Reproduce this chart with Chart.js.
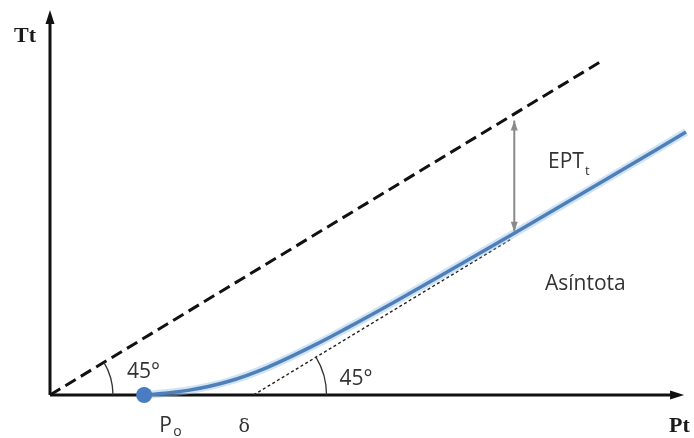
<!DOCTYPE html>
<html>
<head>
  <title>Tt vs Pt</title>
  <script src="https://cdn.jsdelivr.net/npm/chart.js"></script>
  <style>
    body { margin: 0; background: #fff; }
  </style>
</head>
<body>
<canvas id="chart" width="694" height="438"></canvas>
<script>
  // blue curve Tt(Pt)
  const curvePt = [1.48, 2.17, 2.80, 3.42, 4.19, 4.66, 5.43, 6.21, 7.30, 8.54, 10.0];
  const curveTt = [0, 0.12, 0.35, 0.72, 1.32, 1.73, 2.43, 3.16, 4.20, 5.40, 6.83];

  const P0 = 1.48;        // start point on the Pt axis
  const delta = 3.2;      // where the asymptote cuts the Pt axis
  const diagEnd = 8.65;   // end of the 45° dashed line
  const asymEnd = 7.27;   // end of the dotted asymptote
  const eptPt = 7.30;     // Pt of the EPT arrow
  const eptTop = 7.13;
  const eptBottom = 4.24;
  const xAxisEnd = 9.97;
  const yAxisEnd = 10;

  const curve = curvePt.map((x, i) => ({ x: x, y: curveTt[i] }));

  const ink = '#111';
  const textColor = '#333';

  function arrowHead(ctx, x, y, angle, len, wid, color) {
    ctx.save();
    ctx.translate(x, y);
    ctx.rotate(angle);
    ctx.fillStyle = color;
    ctx.beginPath();
    ctx.moveTo(0, 0);
    ctx.lineTo(-len, -wid / 2);
    ctx.lineTo(-len, wid / 2);
    ctx.closePath();
    ctx.fill();
    ctx.restore();
  }

  const decorations = {
    id: 'decorations',
    afterDatasetsDraw(chart) {
      const ctx = chart.ctx;
      const sx = chart.scales.x, sy = chart.scales.y;
      const px = v => sx.getPixelForValue(v);
      const py = v => sy.getPixelForValue(v);

      // axis arrow heads
      arrowHead(ctx, px(0), py(yAxisEnd), -Math.PI / 2, 14, 9, ink);
      arrowHead(ctx, px(xAxisEnd), py(0), 0, 14, 9, ink);

      // EPT double arrow heads
      arrowHead(ctx, px(eptPt), py(eptTop), -Math.PI / 2, 10, 7, '#8a8a8a');
      arrowHead(ctx, px(eptPt), py(eptBottom), Math.PI / 2, 10, 7, '#8a8a8a');

      // angle arcs
      ctx.save();
      ctx.strokeStyle = '#333';
      ctx.lineWidth = 1.3;
      const a1 = Math.atan2(py(0) - py(diagEnd), px(diagEnd) - px(0));
      ctx.beginPath();
      ctx.arc(px(0), py(0), 63, -a1, 0, false);
      ctx.stroke();
      const a2 = Math.atan2(py(0) - py(asymEnd - delta), px(asymEnd) - px(delta));
      ctx.beginPath();
      ctx.arc(px(delta), py(0), 73, -a2, 0, false);
      ctx.stroke();
      ctx.restore();

      // texts
      ctx.save();
      ctx.fillStyle = textColor;
      ctx.textBaseline = 'alphabetic';
      ctx.font = '21px "Open Sans"';
      ctx.fillText('45°', px(0) + 77, py(0) - 17);
      ctx.fillText('45°', px(delta) + 86, py(0) - 10);
      ctx.fillText('Asíntota', 545, 290);
      ctx.fillText('EPT', 548, 168);
      ctx.font = '13px "Open Sans"';
      ctx.fillText('t', 585, 175);

      ctx.font = '21px "Open Sans"';
      ctx.fillText('P', px(P0) + 15, 432);
      ctx.font = '14px "Open Sans"';
      ctx.fillText('o', px(P0) + 29, 436);
      ctx.font = '19px "DejaVu Serif"';
      ctx.fillText('δ', px(delta) - 15, 432);

      ctx.fillStyle = '#1a1a1a';
      ctx.font = 'bold 22px "Liberation Serif"';
      ctx.fillText('Tt', 14, 42);
      ctx.fillText('Pt', 669, 432);
      ctx.restore();
    }
  };

  new Chart(document.getElementById('chart'), {
    type: 'scatter',
    data: {
      datasets: [
        {
          data: [{ x: P0, y: 0 }],
          pointRadius: 8,
          pointBackgroundColor: '#4a7cc2',
          pointBorderWidth: 0,
          showLine: false,
          clip: false
        },
        {
          data: curve,
          showLine: true,
          borderColor: '#4f7fb8',
          borderWidth: 3.5,
          cubicInterpolationMode: 'monotone',
          pointRadius: 0,
          clip: false
        },
        {
          data: curve,
          showLine: true,
          borderColor: 'rgba(150, 195, 235, 0.45)',
          borderWidth: 8,
          cubicInterpolationMode: 'monotone',
          pointRadius: 0,
          clip: false
        },
        {
          data: [{ x: 0, y: 0 }, { x: diagEnd, y: diagEnd }],
          showLine: true,
          borderColor: ink,
          borderWidth: 3,
          borderDash: [12, 6],
          pointRadius: 0,
          clip: false
        },
        {
          data: [{ x: delta, y: 0 }, { x: asymEnd, y: asymEnd - delta }],
          showLine: true,
          borderColor: '#222',
          borderWidth: 1.4,
          borderDash: [3, 2.5],
          pointRadius: 0,
          clip: false
        },
        {
          data: [{ x: eptPt, y: eptTop }, { x: eptPt, y: eptBottom }],
          showLine: true,
          borderColor: '#8a8a8a',
          borderWidth: 2,
          pointRadius: 0,
          clip: false
        },
        {
          data: [{ x: 0, y: 0 }, { x: xAxisEnd - 0.1, y: 0 }],
          showLine: true,
          borderColor: ink,
          borderWidth: 3,
          pointRadius: 0,
          clip: false
        },
        {
          data: [{ x: 0, y: 0 }, { x: 0, y: yAxisEnd - 0.2 }],
          showLine: true,
          borderColor: ink,
          borderWidth: 3,
          pointRadius: 0,
          clip: false
        }
      ]
    },
    options: {
      responsive: false,
      animation: false,
      layout: { padding: { left: 50, right: 0, top: 10, bottom: 43 } },
      scales: {
        x: { type: 'linear', min: 0, max: 10, display: false },
        y: { type: 'linear', min: 0, max: 10, display: false }
      },
      plugins: {
        legend: { display: false },
        tooltip: { enabled: false }
      }
    },
    plugins: [decorations]
  });
</script>
</body>
</html>
